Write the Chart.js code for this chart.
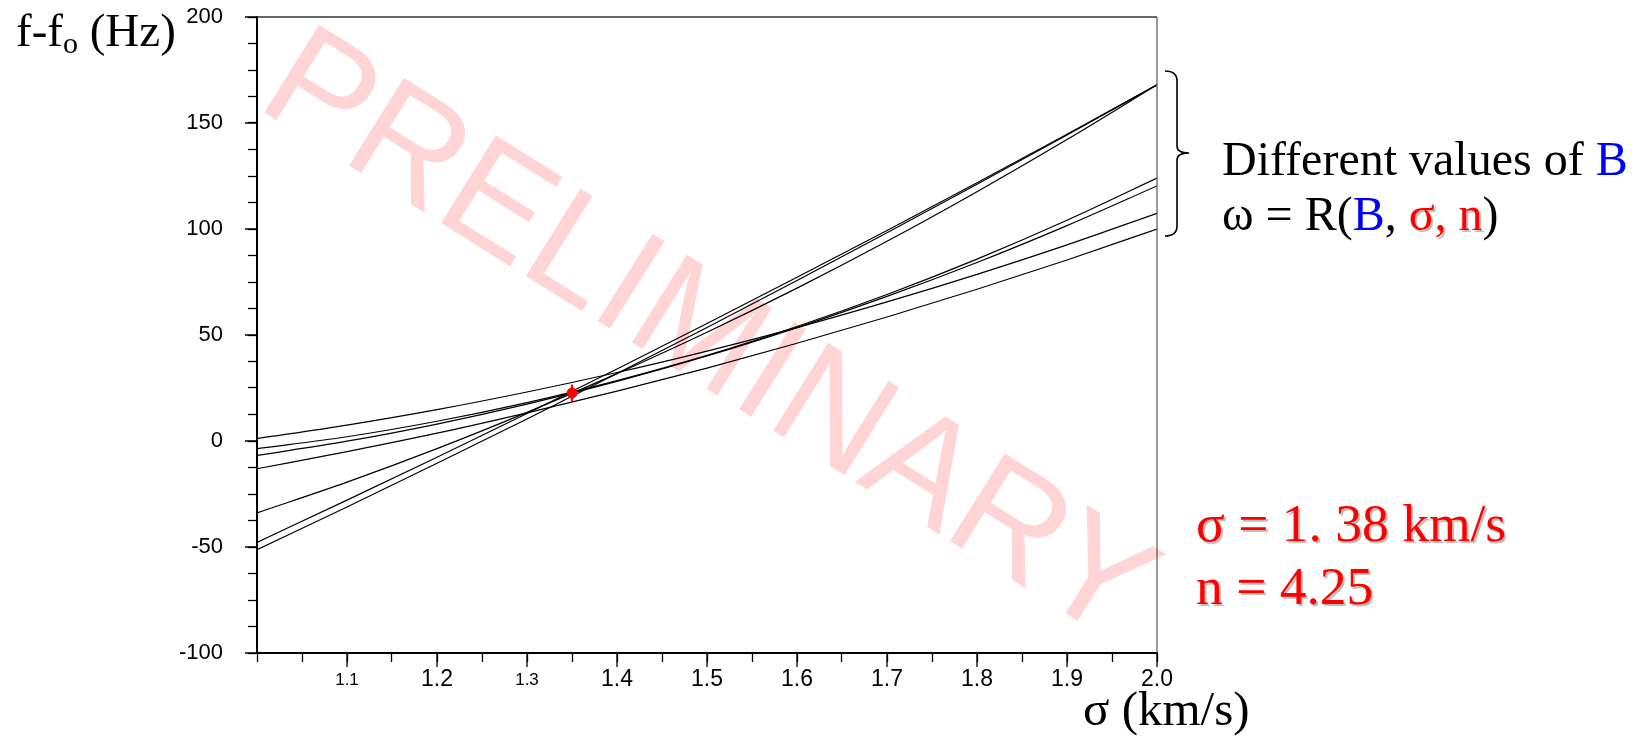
<!DOCTYPE html>
<html>
<head>
<meta charset="utf-8">
<title>f-fo versus sigma</title>
<script src="https://cdn.jsdelivr.net/npm/chart.js@4.4.1/dist/chart.umd.min.js"></script>
<style>
  html, body { margin: 0; padding: 0; background: #fff; }
  #wrap { position: relative; width: 1641px; height: 737px; overflow: hidden; }
  #wrap svg, #wrap canvas { position: absolute; left: 0; top: 0; }
  #stamp { z-index: 0; }
  #plot { z-index: 1; }
  .txt {
    position: absolute; z-index: 2; white-space: nowrap; line-height: 1;
    font-family: 'Liberation Serif', 'Times New Roman', serif; color: #000;
  }
  .txt sub { font-size: 30px; line-height: 0; vertical-align: -7px; }
  .blue { color: #0000ff; }
  .red { color: #ff0000; text-shadow: 2px 2px 1px rgba(0, 0, 0, 0.28); }
</style>
</head>
<body>
<div id="wrap">
  <svg id="stamp" width="1641" height="737">
    <text transform="translate(254,106) rotate(32)" font-family="'Liberation Sans', Arial, sans-serif"
          font-size="150" fill="#ffd4d4">PRELIMINARY</text>
    <!-- brace grouping the B curves -->
    <path d="M1165,71 Q1177,71 1177,81 L1177,146 Q1177,153 1189,153 Q1177,153 1177,160 L1177,226 Q1177,236 1165,236"
          fill="none" stroke="#000" stroke-width="1.6"/>
  </svg>
  <canvas id="plot" width="1641" height="737"></canvas>

  <div class="txt" style="left:16px; top:7px; font-size:47px;">f-f<sub>o</sub> (Hz)</div>
  <div class="txt" style="left:1083px; top:684px; font-size:49px;">σ (km/s)</div>
  <div class="txt" style="left:1222px; top:135px; font-size:48px;">Different values of <span class="blue">B</span></div>
  <div class="txt" style="left:1222px; top:190px; font-size:48px;">ω = R(<span class="blue">B</span>, <span class="red">σ, n</span>)</div>
  <div class="txt red" style="left:1196px; top:497px; font-size:53.5px;">σ = 1. 38 km/s</div>
  <div class="txt red" style="left:1196px; top:560px; font-size:53.5px;">n = 4.25</div>
</div>

<script>
// sigma (km/s) where each curve was sampled
const sigmaGrid = [1.0, 1.1, 1.2, 1.3, 1.4, 1.5, 1.6, 1.7, 1.8, 1.9, 2.0];

// frequency shift f - fo (Hz), one curve per value of B
const shiftB1 = [1.1, 7.5, 14.8, 23.1, 32.3, 42.4, 53.5, 65.6, 78.6, 92.5, 107.4];
const shiftB2 = [-3.6, 2.0, 9.3, 18.1, 28.5, 40.4, 54.0, 69.1, 85.8, 104.1, 124.0];
const shiftB3 = [-6.8, -0.1, 8.0, 17.4, 28.1, 40.1, 53.5, 68.2, 84.2, 101.6, 120.3];
const shiftB4 = [-13.1, -5.0, 3.7, 13.3, 23.5, 34.4, 46.1, 58.5, 71.6, 85.4, 100.0];
const shiftB5 = [-33.9, -19.4, -3.6, 13.5, 31.8, 51.3, 72.1, 94.2, 117.6, 142.2, 168.0];
const shiftB6 = [-47.8, -27.9, -7.7, 13.0, 34.0, 55.4, 77.2, 99.3, 121.8, 144.7, 168.0];
const shiftB7 = [-51.3, -31.1, -10.5, 10.4, 31.8, 53.5, 75.7, 98.2, 121.1, 144.3, 168.0];

// measured point with its error
const fitSigma = [1.35];
const fitShift = [22.6];
const fitErr = [4.0];

// axis labels
const xTickLabels = ['1.1', '1.2', '1.3', '1.4', '1.5', '1.6', '1.7', '1.8', '1.9', '2.0'];
const smallTickLabels = ['1.1', '1.3'];
const yTickLabels = ['-100', '-50', '0', '50', '100', '150', '200'];

const curves = [shiftB1, shiftB2, shiftB3, shiftB4, shiftB5, shiftB6, shiftB7];

const curveSets = curves.map((vals, i) => ({
    label: 'B' + (i + 1),
    data: vals.map((v, j) => ({ x: sigmaGrid[j], y: v })),
    borderColor: '#000',
    borderWidth: 1.2,
    pointRadius: 0,
    fill: false,
    cubicInterpolationMode: 'monotone',
    order: 2
}));

const pointSet = {
    label: 'fit',
    type: 'scatter',
    data: fitSigma.map((s, i) => ({ x: s, y: fitShift[i] })),
    backgroundColor: '#ff0000',
    borderColor: '#ff0000',
    pointRadius: 5,
    order: 0
};

// long ticks at labelled values, error bar, box frame
const axisExtras = {
    id: 'axisExtras',
    afterDatasetsDraw(chart) {
        const { ctx, scales: { x, y } } = chart;
        ctx.save();
        ctx.strokeStyle = '#ff0000';
        ctx.lineWidth = 2.2;
        fitSigma.forEach((s, i) => {
            const px = x.getPixelForValue(s);
            ctx.beginPath();
            ctx.moveTo(px, y.getPixelForValue(fitShift[i] - fitErr[i]));
            ctx.lineTo(px, y.getPixelForValue(fitShift[i] + fitErr[i]));
            ctx.stroke();
        });
        ctx.restore();
    },
    afterDraw(chart) {
        const { ctx, chartArea: a, scales: { x, y } } = chart;
        ctx.save();
        ctx.strokeStyle = '#000';
        ctx.lineWidth = 1.3;
        ctx.beginPath();
        x.ticks.forEach((t, i) => {
            if (!t.label) return;
            const px = x.getPixelForTick(i);
            ctx.moveTo(px, a.bottom);
            ctx.lineTo(px, a.bottom + 14);
        });
        y.ticks.forEach((t, i) => {
            if (!t.label) return;
            const py = y.getPixelForTick(i);
            ctx.moveTo(a.left - 12, py);
            ctx.lineTo(a.left, py);
        });
        ctx.stroke();

        ctx.strokeStyle = '#333';
        ctx.lineWidth = 1.6;
        ctx.beginPath();
        ctx.moveTo(a.left, a.top);
        ctx.lineTo(a.right, a.top);
        ctx.stroke();
        ctx.strokeStyle = '#555';
        ctx.lineWidth = 1.2;
        ctx.beginPath();
        ctx.moveTo(a.right, a.top);
        ctx.lineTo(a.right, a.bottom);
        ctx.stroke();
        ctx.restore();
    }
};

const tickFont = "'Liberation Sans', Arial, sans-serif";

new Chart(document.getElementById('plot'), {
    type: 'line',
    data: { datasets: [...curveSets, pointSet] },
    options: {
        responsive: false,
        animation: false,
        events: [],
        layout: { padding: { left: 0, top: 17, right: 484, bottom: 0 } },
        plugins: {
            legend: { display: false },
            tooltip: { enabled: false }
        },
        scales: {
            x: {
                type: 'linear',
                min: 1,
                max: 2,
                afterFit: s => { s.height = 84; },
                border: { display: true, color: '#000', width: 2 },
                grid: {
                    drawOnChartArea: false,
                    drawTicks: true,
                    tickLength: 9,
                    tickColor: '#000',
                    tickWidth: 1.3
                },
                ticks: {
                    stepSize: 0.05,
                    maxTicksLimit: 100,
                    autoSkip: false,
                    maxRotation: 0,
                    padding: 4,
                    color: '#000',
                    callback: v => {
                        const lab = v.toFixed(2).slice(-1) === '0' ? v.toFixed(1) : '';
                        return xTickLabels.includes(lab) ? lab : '';
                    },
                    font: c => smallTickLabels.includes(c.tick && c.tick.label)
                        ? { family: tickFont, size: 17, lineHeight: 1.7 }
                        : { family: tickFont, size: 23, lineHeight: 1.2 }
                }
            },
            y: {
                type: 'linear',
                min: -100,
                max: 200,
                // fixed width; drop the label overhang so the plot top stays put
                afterFit: s => { s.width = 257; s.paddingTop = 0; s.paddingBottom = 0; },
                border: { display: true, color: '#000', width: 2 },
                grid: {
                    drawOnChartArea: false,
                    drawTicks: true,
                    tickLength: 9,
                    tickColor: '#000',
                    tickWidth: 1.3
                },
                ticks: {
                    stepSize: 12.5,
                    maxTicksLimit: 100,
                    autoSkip: false,
                    padding: 25,
                    color: '#000',
                    font: { family: tickFont, size: 22 },
                    callback: v => yTickLabels.includes(String(v)) ? String(v) : ''
                }
            }
        }
    },
    plugins: [axisExtras]
});
</script>
</body>
</html>
